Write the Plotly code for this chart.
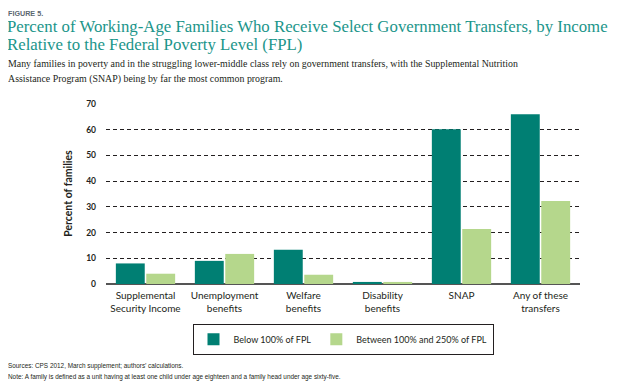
import plotly.graph_objects as go

categories = ["Supplemental<br>Security Income", "Unemployment<br>benefits", "Welfare<br>benefits",
              "Disability<br>benefits", "SNAP", "Any of these<br>transfers"]
below_100 = [8.0, 9.0, 13.3, 0.8, 60.2, 66.0]
between_100_250 = [4.0, 11.7, 3.6, 0.8, 21.4, 32.3]
series_names = ["Below 100% of FPL", "Between 100% and 250% of FPL"]
y_ticks = [0, 10, 20, 30, 40, 50, 60, 70]

OFF = 8  # default page body margin
W, H = 630 - OFF, 386 - OFF
plot_left, plot_right, plot_top, plot_bottom = 106, 580, 104, 284.3
L = plot_left - OFF
R = 630 - plot_right
T = plot_top - OFF
B = 386 - plot_bottom
PW, PH = W - L - R, H - T - B

def px(x):
    return (x - plot_left) / PW

def py(y):
    return (plot_bottom - y) / PH

fig = go.Figure()
fig.add_trace(go.Bar(x=categories, y=below_100, name=series_names[0], marker_color="#007F73",
                     marker_line_width=0))
fig.add_trace(go.Bar(x=categories, y=between_100_250, name=series_names[1], marker_color="#B5D78C",
                     marker_line_width=0))

fig.update_layout(
    width=W, height=H, margin=dict(l=L, r=R, t=T, b=B, pad=0),
    paper_bgcolor="white", plot_bgcolor="white",
    barmode="group", bargap=0.23, bargroupgap=0.05,
    font=dict(family="Lato", color="#231F20"),
    showlegend=True,
    legend=dict(orientation="h", x=0.5, xanchor="center", y=py(324), yanchor="top",
                bordercolor="#231F20", borderwidth=1, font=dict(size=9, color="#231F20"),
                itemwidth=30, tracegroupgap=0),
)
fig.update_xaxes(showgrid=False, showline=False, ticks="", tickfont=dict(size=10, color="#231F20"),
                 tickangle=0, ticklabelstandoff=4)
fig.update_yaxes(range=[0, 70], tickvals=y_ticks, showgrid=True, gridcolor="#231F20", gridwidth=1,
                 griddash="4px,3px", zeroline=True, zerolinecolor="#555555", zerolinewidth=2,
                 tickfont=dict(size=8.5, color="#231F20", weight="bold"), ticklabelstandoff=9,
                 showline=False)

ann = [
    dict(text="FIGURE 5.", x=px(7), y=py(8), xanchor="left", yanchor="top", borderpad=0,
         font=dict(family="Liberation Sans", size=7.2, color="#5B6770", weight="bold")),
    dict(text="Percent of Working-Age Families Who Receive Select Government Transfers, by Income",
         x=px(6), y=py(26.5), xanchor="left", yanchor="middle", borderpad=0,
         font=dict(family="Liberation Serif", size=16.8, color="#1B958A")),
    dict(text="Relative to the Federal Poverty Level (FPL)",
         x=px(6), y=py(44), xanchor="left", yanchor="middle", borderpad=0,
         font=dict(family="Liberation Serif", size=16.8, color="#1B958A")),
    dict(text="Many families in poverty and in the struggling lower-middle class rely on government transfers, with the Supplemental Nutrition",
         x=px(6), y=py(63.5), xanchor="left", yanchor="middle",
         font=dict(family="Liberation Serif", size=9.9, color="#231F20")),
    dict(text="Assistance Program (SNAP) being by far the most common program.",
         x=px(6), y=py(78.5), xanchor="left", yanchor="middle",
         font=dict(family="Liberation Serif", size=9.9, color="#231F20")),
    dict(text="Percent of families", x=px(68), y=py(194), xanchor="center", yanchor="middle",
         textangle=-90, font=dict(family="Lato", size=10.5, color="#231F20", weight="bold")),
    dict(text="Sources: CPS 2012, March supplement; authors’ calculations.", x=px(6), y=py(366),
         xanchor="left", yanchor="middle", font=dict(family="Liberation Sans", size=6.4, color="#231F20")),
    dict(text="Note: A family is defined as a unit having at least one child under age eighteen and a family head under age sixty-five.",
         x=px(6), y=py(377), xanchor="left", yanchor="middle",
         font=dict(family="Liberation Sans", size=6.4, color="#231F20")),
]
for a in ann:
    a.update(xref="paper", yref="paper", showarrow=False)
fig.update_layout(annotations=ann)

fig.write_html("out.html")
